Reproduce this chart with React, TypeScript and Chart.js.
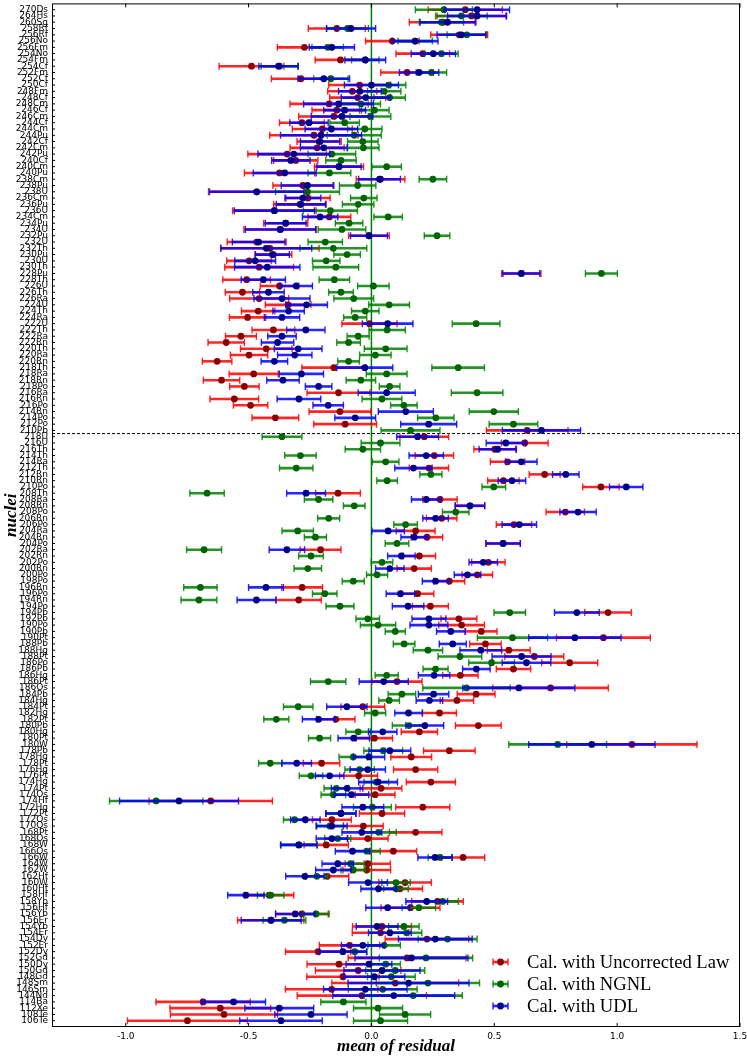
import { useEffect, useRef } from "react";
import { Chart, registerables } from "chart.js";

Chart.register(...registerables);

// nuclei, top to bottom
const nuclei = [
  "270Ds", "264Hs", "260Sg", "258Rf", "256Rf", "256No", "256Fm", "254No", "254Fm", "254Cf",
  "252Fm", "252Cf", "250Cf", "248Fm", "248Cf", "248Cm", "246Cf", "246Cm", "244Cf", "244Cm",
  "244Pu", "242Cf", "242Cm", "242Pu", "240Cf", "240Cm", "240Pu", "238Cm", "238Pu", "238U",
  "236Cm", "236Pu", "236U", "234Cm", "234Pu", "234U", "232Pu", "232U", "232Th", "230Pu",
  "230U", "230Th", "228Pu", "228Th", "226U", "226Th", "226Ra", "224U", "224Th", "224Ra",
  "222U", "222Th", "222Ra", "222Rn", "220Th", "220Ra", "220Rn", "218Th", "218Ra", "218Rn",
  "218Po", "216Ra", "216Rn", "216Po", "214Rn", "214Po", "212Po", "210Pb", "218U", "216U",
  "216Th", "214Th", "214Ra", "212Th", "212Rn", "210Rn", "210Po", "208Th", "208Ra", "208Rn",
  "208Po", "206Rn", "206Po", "204Ra", "204Rn", "204Po", "202Ra", "202Rn", "202Po", "200Rn",
  "200Po", "198Po", "196Rn", "196Po", "194Rn", "194Po", "194Pb", "192Pb", "190Po", "190Pb",
  "190Pt", "188Pb", "188Hg", "188Pt", "186Po", "186Pb", "186Hg", "186Pt", "186Os", "184Pb",
  "184Hg", "184Pt", "182Hg", "182Pt", "180Pb", "180Hg", "180Pt", "180W", "178Pb", "178Hg",
  "178Pt", "176Hg", "176Pt", "174Hg", "174Pt", "174Os", "174Hf", "172Hg", "172Pt", "172Os",
  "170Os", "168Pt", "168Os", "168W", "166Os", "166W", "164W", "162W", "162Hf", "160W",
  "160Hf", "158Hf", "158Yb", "156Hf", "156Yb", "156Er", "154Yb", "154Er", "154Dy", "152Er",
  "152Dy", "152Gd", "150Dy", "150Gd", "148Gd", "148Sm", "146Sm", "144Nd", "114Ba", "112Xe",
  "108Te", "106Te",
];

const uncorrected = [
  0.382, 0.407, 0.29, -0.141, 0.357, 0.085, -0.273, 0.209, -0.126, -0.488,
  0.145, -0.287, -0.048, -0.078, -0.056, -0.172, -0.141, -0.153, -0.283, -0.2,
  -0.234, -0.213, -0.221, -0.343, -0.308, -0.132, -0.374, 0.037, -0.279, -0.467,
  -0.258, -0.291, -0.395, -0.171, -0.349, -0.372, -0.01, -0.467, -0.413, -0.399,
  -0.498, -0.457, 0.61, -0.508, -0.374, -0.525, -0.457, -0.339, -0.461, -0.504,
  -0.008, -0.399, -0.531, -0.591, -0.428, -0.498, -0.628, -0.153, -0.479, -0.61,
  -0.517, -0.134, -0.558, -0.492, -0.128, -0.391, -0.107, 0.634, 0.215, 0.624,
  0.502, 0.256, 0.554, 0.234, 0.705, 0.537, 0.934, -0.136, 0.279, 0.401,
  0.789, 0.286, 0.58, 0.18, 0.226, 0.536, -0.207, 0.195, 0.476, 0.174,
  0.431, 0.317, -0.282, 0.188, -0.296, 0.24, 0.963, 0.356, 0.367, 0.447,
  0.944, 0.464, 0.559, 0.663, 0.807, 0.578, 0.362, 0.104, 0.729, 0.426,
  0.348, -0.035, 0.277, -0.145, 0.435, 0.195, 0.012, 1.06, 0.317, 0.162,
  -0.203, 0.18, -0.052, 0.242, 0.039, 0.015, -0.654, 0.209, 0.043, -0.161,
  -0.033, 0.18, -0.015, -0.184, 0.089, 0.373, -0.015, -0.019, -0.18, 0.137,
  0.116, -0.416, 0.269, 0.159, -0.283, -0.41, 0.043, 0.037, 0.226, -0.089,
  -0.217, 0.145, -0.132, -0.054, -0.116, 0.097, -0.162, -0.039, -0.685, -0.615,
  -0.6, -0.749,
];
const uncorrectedErr = [
  0.151, 0.14, 0.136, 0.116, 0.116, 0.109, 0.11, 0.109, 0.103, 0.132,
  0.107, 0.12, 0.126, 0.1, 0.114, 0.159, 0.101, 0.143, 0.091, 0.122,
  0.18, 0.09, 0.11, 0.16, 0.09, 0.1, 0.143, 0.099, 0.122, 0.196,
  0.09, 0.107, 0.17, 0.087, 0.09, 0.147, 0.083, 0.12, 0.2, 0.075,
  0.091, 0.14, 0.08, 0.097, 0.078, 0.07, 0.12, 0.093, 0.068, 0.074,
  0.112, 0.087, 0.063, 0.074, 0.105, 0.076, 0.06, 0.13, 0.1, 0.074,
  0.06, 0.128, 0.099, 0.07, 0.126, 0.095, 0.128, 0.166, 0.099, 0.095,
  0.085, 0.078, 0.07, 0.08, 0.063, 0.064, 0.074, 0.091, 0.07, 0.06,
  0.078, 0.062, 0.072, 0.079, 0.064, 0.07, 0.083, 0.066, 0.068, 0.07,
  0.062, 0.063, 0.083, 0.066, 0.092, 0.073, 0.095, 0.073, 0.093, 0.064,
  0.191, 0.064, 0.087, 0.12, 0.114, 0.07, 0.072, 0.102, 0.235, 0.077,
  0.068, 0.089, 0.069, 0.078, 0.093, 0.074, 0.074, 0.265, 0.105, 0.083,
  0.074, 0.09, 0.077, 0.1, 0.085, 0.081, 0.251, 0.11, 0.092, 0.079,
  0.081, 0.107, 0.083, 0.09, 0.095, 0.088, 0.092, 0.097, 0.088, 0.107,
  0.092, 0.1, 0.105, 0.12, 0.107, 0.135, 0.12, 0.115, 0.17, 0.123,
  0.133, 0.24, 0.13, 0.174, 0.147, 0.258, 0.188, 0.263, 0.192, 0.205,
  0.218, 0.244,
];

const ngnl = [
  0.295, 0.366, 0.285, -0.097, 0.388, 0.178, -0.178, 0.285, -0.025, -0.374,
  0.244, -0.165, 0.07, 0.052, 0.074, -0.043, 0.012, -0.004, -0.109, -0.027,
  -0.07, -0.035, -0.033, -0.161, -0.124, 0.062, -0.171, 0.25, -0.056, -0.26,
  -0.031, -0.054, -0.167, 0.068, -0.091, -0.12, 0.267, -0.188, -0.155, -0.099,
  -0.184, -0.145, 0.936, -0.151, 0.008, -0.124, -0.072, 0.072, -0.025, -0.066,
  0.426, 0.064, -0.054, -0.093, 0.058, 0.016, -0.093, 0.353, 0.062, -0.043,
  0.074, 0.43, 0.043, 0.132, 0.498, 0.262, 0.578, 0.159, -0.364, 0.037,
  -0.035, -0.289, 0.058, -0.306, 0.242, 0.064, 0.498, -0.669, -0.215, -0.07,
  0.343, -0.174, 0.139, -0.3, -0.228, 0.104, -0.681, -0.246, 0.043, -0.259,
  0.023, -0.074, -0.696, -0.19, -0.702, -0.128, 0.563, -0.015, 0.027, 0.097,
  0.574, 0.133, 0.23, 0.36, 0.489, 0.261, 0.062, -0.176, 0.387, 0.124,
  0.072, -0.298, 0.015, -0.387, 0.153, -0.054, -0.211, 0.758, 0.048, -0.074,
  -0.412, -0.048, -0.246, 0.02, -0.143, -0.155, -0.876, 0.004, -0.124, -0.313,
  -0.17, 0.029, -0.137, -0.294, -0.019, 0.279, -0.085, -0.074, -0.222, 0.1,
  0.1, -0.41, 0.29, 0.193, -0.225, -0.354, 0.132, 0.143, 0.31, 0.052,
  -0.068, 0.222, 0.058, 0.097, 0.081, 0.23, 0.046, 0.17, -0.114, 0.027,
  0.137, 0.037,
];
const ngnlErr = [
  0.116, 0.105, 0.09, 0.085, 0.08, 0.07, 0.064, 0.068, 0.056, 0.075,
  0.062, 0.07, 0.07, 0.068, 0.064, 0.08, 0.06, 0.083, 0.06, 0.07,
  0.11, 0.062, 0.064, 0.097, 0.062, 0.06, 0.087, 0.056, 0.074, 0.13,
  0.054, 0.064, 0.11, 0.058, 0.056, 0.097, 0.052, 0.07, 0.136, 0.054,
  0.056, 0.093, 0.065, 0.062, 0.064, 0.05, 0.081, 0.083, 0.056, 0.047,
  0.097, 0.074, 0.045, 0.048, 0.087, 0.064, 0.044, 0.107, 0.083, 0.06,
  0.042, 0.105, 0.081, 0.054, 0.1, 0.074, 0.099, 0.12, 0.081, 0.079,
  0.072, 0.064, 0.054, 0.068, 0.045, 0.042, 0.048, 0.07, 0.058, 0.044,
  0.054, 0.045, 0.048, 0.064, 0.045, 0.048, 0.071, 0.05, 0.044, 0.056,
  0.043, 0.045, 0.068, 0.05, 0.073, 0.057, 0.064, 0.048, 0.072, 0.041,
  0.143, 0.044, 0.06, 0.089, 0.093, 0.051, 0.047, 0.072, 0.178, 0.056,
  0.042, 0.06, 0.043, 0.051, 0.068, 0.05, 0.045, 0.199, 0.079, 0.058,
  0.047, 0.06, 0.048, 0.05, 0.05, 0.05, 0.19, 0.077, 0.06, 0.045,
  0.056, 0.072, 0.053, 0.074, 0.055, 0.048, 0.055, 0.05, 0.045, 0.058,
  0.05, 0.054, 0.064, 0.068, 0.053, 0.087, 0.062, 0.062, 0.12, 0.066,
  0.05, 0.19, 0.06, 0.12, 0.097, 0.21, 0.14, 0.2, 0.092, 0.1,
  0.104, 0.11,
];

const udl = [
  0.43, 0.43, 0.31, -0.083, 0.366, 0.178, -0.161, 0.252, -0.025, -0.378,
  0.194, -0.194, 0.0, -0.047, -0.023, -0.134, -0.109, -0.12, -0.254, -0.163,
  -0.205, -0.209, -0.194, -0.316, -0.328, -0.132, -0.353, 0.033, -0.26, -0.467,
  -0.279, -0.287, -0.395, -0.209, -0.349, -0.37, -0.01, -0.459, -0.428, -0.403,
  -0.473, -0.424, 0.61, -0.44, -0.306, -0.419, -0.364, -0.264, -0.337, -0.364,
  0.066, -0.267, -0.364, -0.382, -0.298, -0.312, -0.395, -0.027, -0.285, -0.36,
  -0.215, 0.062, -0.295, -0.176, 0.14, -0.066, 0.233, 0.692, 0.188, 0.547,
  0.514, 0.223, 0.61, 0.171, 0.791, 0.572, 1.037, -0.266, 0.223, 0.401,
  0.841, 0.261, 0.602, 0.068, 0.174, 0.536, -0.344, 0.122, 0.455, 0.075,
  0.391, 0.261, -0.429, 0.118, -0.468, 0.149, 0.836, 0.234, 0.234, 0.323,
  0.828, 0.331, 0.445, 0.611, 0.631, 0.427, 0.255, 0.05, 0.6, 0.253,
  0.236, -0.1, 0.151, -0.215, 0.217, 0.046, -0.072, 0.897, 0.075, -0.01,
  -0.304, -0.015, -0.17, 0.027, -0.099, -0.081, -0.783, -0.035, -0.124, -0.269,
  -0.161, -0.039, -0.161, -0.296, -0.077, 0.259, -0.137, -0.155, -0.271, -0.014,
  0.029, -0.511, 0.225, 0.066, -0.31, -0.408, 0.023, 0.075, 0.26, -0.035,
  -0.116, 0.163, -0.01, 0.043, 0.012, 0.151, -0.025, 0.091, -0.561, -0.375,
  -0.246, -0.368,
];
const udlErr = [
  0.132, 0.12, 0.112, 0.1, 0.099, 0.093, 0.092, 0.09, 0.083, 0.08,
  0.08, 0.105, 0.11, 0.087, 0.1, 0.142, 0.085, 0.125, 0.078, 0.107,
  0.165, 0.08, 0.095, 0.146, 0.078, 0.09, 0.128, 0.085, 0.107, 0.192,
  0.073, 0.1, 0.163, 0.072, 0.083, 0.143, 0.075, 0.107, 0.185, 0.069,
  0.083, 0.133, 0.075, 0.09, 0.066, 0.064, 0.114, 0.085, 0.064, 0.072,
  0.103, 0.078, 0.058, 0.066, 0.097, 0.07, 0.054, 0.114, 0.09, 0.066,
  0.054, 0.116, 0.089, 0.062, 0.112, 0.083, 0.114, 0.159, 0.085, 0.08,
  0.076, 0.07, 0.064, 0.076, 0.054, 0.056, 0.068, 0.079, 0.06, 0.06,
  0.074, 0.052, 0.07, 0.066, 0.054, 0.07, 0.072, 0.056, 0.058, 0.058,
  0.054, 0.054, 0.071, 0.058, 0.079, 0.064, 0.091, 0.069, 0.077, 0.058,
  0.188, 0.055, 0.085, 0.12, 0.099, 0.056, 0.064, 0.1, 0.228, 0.062,
  0.054, 0.082, 0.056, 0.066, 0.077, 0.058, 0.064, 0.257, 0.085, 0.064,
  0.06, 0.072, 0.058, 0.079, 0.064, 0.07, 0.242, 0.085, 0.062, 0.06,
  0.062, 0.081, 0.064, 0.074, 0.07, 0.07, 0.064, 0.072, 0.078, 0.079,
  0.072, 0.074, 0.085, 0.089, 0.08, 0.122, 0.085, 0.087, 0.15, 0.087,
  0.096, 0.23, 0.093, 0.155, 0.124, 0.246, 0.17, 0.248, 0.13, 0.14,
  0.147, 0.168,
];

const xTicks = [-1.0, -0.5, 0.0, 0.5, 1.0, 1.5];
const splitAfter = "210Pb";

const series = [
  { label: "Cal. with Uncorrected Law", values: uncorrected, errs: uncorrectedErr, bar: "rgba(255,0,0,0.85)", dot: "#8b0000", order: 3 },
  { label: "Cal. with NGNL", values: ngnl, errs: ngnlErr, bar: "rgba(0,128,0,0.85)", dot: "#006400", order: 2 },
  { label: "Cal. with UDL", values: udl, errs: udlErr, bar: "rgba(0,0,255,0.85)", dot: "#00008b", order: 1 },
];

function drawErr(ctx: CanvasRenderingContext2D, l: number, r: number, py: number, color: string) {
  ctx.strokeStyle = color;
  ctx.lineWidth = 2.6;
  ctx.beginPath();
  ctx.moveTo(l, py);
  ctx.lineTo(r, py);
  ctx.stroke();
  ctx.lineWidth = 1.4;
  ctx.beginPath();
  ctx.moveTo(l, py - 3.5);
  ctx.lineTo(l, py + 3.5);
  ctx.moveTo(r, py - 3.5);
  ctx.lineTo(r, py + 3.5);
  ctx.stroke();
}

const residualPlugin = {
  id: "residualPlugin",
  beforeDatasetsDraw(chart: any) {
    const { ctx, chartArea: a, scales } = chart;
    const x = scales.x, y = scales.y;
    ctx.save();
    const x0 = x.getPixelForValue(0);
    ctx.strokeStyle = "#008000";
    ctx.lineWidth = 1.5;
    ctx.beginPath();
    ctx.moveTo(x0, a.top);
    ctx.lineTo(x0, a.bottom);
    ctx.stroke();
    const ys = y.getPixelForValue(nuclei.indexOf(splitAfter) + 0.5);
    ctx.strokeStyle = "#000";
    ctx.lineWidth = 1;
    ctx.setLineDash([3, 2]);
    ctx.beginPath();
    ctx.moveTo(a.left, ys);
    ctx.lineTo(a.right, ys);
    ctx.stroke();
    ctx.restore();
  },
  beforeDatasetDraw(chart: any, args: any) {
    const ds = chart.data.datasets[args.index];
    const { ctx, scales } = chart;
    const x = scales.x, y = scales.y;
    ctx.save();
    ds.data.forEach((p: any, i: number) => {
      const e = ds.errs[i];
      drawErr(ctx, x.getPixelForValue(p.x - e), x.getPixelForValue(p.x + e), y.getPixelForValue(p.y), ds.barColor);
    });
    ctx.restore();
  },
  afterDraw(chart: any) {
    const { ctx, chartArea: a, scales } = chart;
    const x = scales.x, y = scales.y;
    ctx.save();
    ctx.strokeStyle = "#000";
    ctx.lineWidth = 1;
    ctx.strokeRect(a.left + 0.5, a.top + 0.5, a.right - a.left - 1, a.bottom - a.top - 1);
    ctx.beginPath();
    xTicks.forEach((t) => {
      const px = x.getPixelForValue(t);
      ctx.moveTo(px, a.bottom);
      ctx.lineTo(px, a.bottom - 4);
      ctx.moveTo(px, a.top);
      ctx.lineTo(px, a.top + 4);
    });
    nuclei.forEach((_, i) => {
      const py = y.getPixelForValue(i);
      ctx.moveTo(a.left, py);
      ctx.lineTo(a.left + 3, py);
    });
    ctx.stroke();

    ctx.fillStyle = "#000";
    ctx.font = "italic bold 17px 'Liberation Serif'";
    ctx.textAlign = "center";
    ctx.textBaseline = "middle";
    ctx.fillText("mean of residual", (a.left + a.right) / 2, 1047);
    ctx.save();
    ctx.translate(12, (a.top + a.bottom) / 2);
    ctx.rotate(-Math.PI / 2);
    ctx.fillText("nuclei", 0, 0);
    ctx.restore();

    // legend
    ctx.font = "18.6px 'Liberation Serif'";
    ctx.textAlign = "left";
    series.forEach((s, i) => {
      const ly = 962 + i * 22;
      drawErr(ctx, 493, 508, ly, s.bar);
      ctx.fillStyle = s.dot;
      ctx.beginPath();
      ctx.arc(500.5, ly, 3.4, 0, Math.PI * 2);
      ctx.fill();
      ctx.fillStyle = "#000";
      ctx.fillText(s.label, 527, ly + 1);
    });
    ctx.restore();
  },
};

export default function App() {
  const canvasRef = useRef<HTMLCanvasElement | null>(null);
  const chartRef = useRef<Chart | null>(null);

  useEffect(() => {
    if (!canvasRef.current) return;
    if (chartRef.current) chartRef.current.destroy();
    chartRef.current = new Chart(canvasRef.current, {
      type: "scatter",
      data: {
        datasets: series.map((s) => ({
          label: s.label,
          data: s.values.map((v, i) => ({ x: v, y: i })),
          errs: s.errs,
          barColor: s.bar,
          order: s.order,
          pointRadius: 3.4,
          pointHoverRadius: 3.4,
          pointBackgroundColor: s.dot,
          pointBorderColor: s.dot,
          pointBorderWidth: 0,
        })) as any,
      },
      options: {
        animation: false,
        responsive: true,
        maintainAspectRatio: false,
        layout: { padding: { top: 1, right: 7, left: 0, bottom: 0 } },
        plugins: { legend: { display: false }, tooltip: { enabled: false } },
        scales: {
          x: {
            type: "linear",
            min: -1.3,
            max: 1.5,
            grid: { display: false, drawTicks: false },
            border: { display: false },
            ticks: {
              stepSize: 0.5,
              color: "#000",
              padding: 4,
              font: { family: "'DejaVu Sans'", size: 9 },
              callback: (v: any) => (Math.abs(v * 2 - Math.round(v * 2)) < 1e-6 ? Number(v).toFixed(1) : ""),
            },
            afterFit: (s: any) => {
              s.height = 32;
              s.paddingLeft = 0;
              s.paddingRight = 0;
            },
          },
          y: {
            type: "linear",
            reverse: true,
            min: -1,
            max: nuclei.length,
            grid: { display: false, drawTicks: false },
            border: { display: false },
            ticks: {
              stepSize: 1,
              autoSkip: false,
              color: "#000",
              padding: 4,
              font: { family: "'DejaVu Sans'", size: 9 },
              callback: (v: any) => nuclei[v] ?? "",
            },
            afterFit: (s: any) => {
              s.width = 52;
              s.paddingTop = 0;
              s.paddingBottom = 0;
            },
          },
        },
      },
      plugins: [residualPlugin],
    });
    return () => {
      if (chartRef.current) {
        chartRef.current.destroy();
        chartRef.current = null;
      }
    };
  }, []);

  return (
    <div style={{ position: "absolute", left: 0, top: 0, width: 747, height: 1059, background: "#fff" }}>
      <canvas ref={canvasRef}></canvas>
    </div>
  );
}
